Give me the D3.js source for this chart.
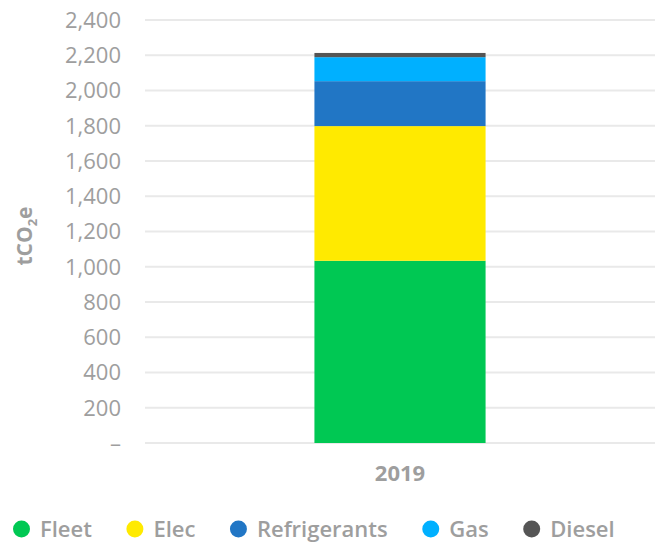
<!DOCTYPE html>
<html>
<head>
<meta charset="utf-8">
<script src="https://cdn.jsdelivr.net/npm/d3@7"></script>
<style>
  body { margin: 0; background: #fff; }
  svg text { font-family: "Open Sans", Lato, sans-serif; }
</style>
</head>
<body>
<div id="chart"></div>
<script>
const years = ['2019'];
const seriesNames = ['Fleet', 'Elec', 'Refrigerants', 'Gas', 'Diesel'];
const fleet = [1034];
const elec = [764];
const refrigerants = [255];
const gas = [136];
const diesel = [24];
const yTicks = [0, 200, 400, 600, 800, 1000, 1200, 1400, 1600, 1800, 2000, 2200, 2400];
const colors = ['#00c853', '#ffea00', '#2176c5', '#00b0ff', '#555555'];

const width = 662, height = 543;
const margin = {top: 20, right: 7, bottom: 100, left: 145};

const rows = years.map((y, i) => ({
  year: y, Fleet: fleet[i], Elec: elec[i], Refrigerants: refrigerants[i], Gas: gas[i], Diesel: diesel[i]
}));

const svg = d3.select('#chart').append('svg')
  .attr('width', width)
  .attr('height', height);

const x = d3.scaleBand()
  .domain(years)
  .range([margin.left, width - margin.right])
  .paddingInner(0)
  .paddingOuter(0.99);

const y = d3.scaleLinear()
  .domain([0, 2400])
  .range([443, 20]);

// gridlines
svg.append('g')
  .selectAll('line')
  .data(yTicks)
  .enter().append('line')
  .attr('x1', margin.left)
  .attr('x2', width - margin.right)
  .attr('y1', d => y(d))
  .attr('y2', d => y(d))
  .attr('stroke', '#e9e9e9')
  .attr('stroke-width', 2);

// y tick labels
svg.append('g')
  .selectAll('text')
  .data(yTicks)
  .enter().append('text')
  .attr('x', 121)
  .attr('y', d => y(d))
  .attr('dy', '0.36em')
  .attr('text-anchor', 'end')
  .style('font-size', '22px')
  .style('fill', '#9e9e9e')
  .text(d => d === 0 ? '–' : d3.format(',')(d));

// y title
const yt = svg.append('text')
  .attr('transform', 'translate(32,236) rotate(-90)')
  .attr('text-anchor', 'middle')
  .style('font-size', '21px')
  .style('font-weight', 'bold')
  .style('fill', '#9e9e9e');
yt.append('tspan').text('tCO');
yt.append('tspan').attr('dy', 5).style('font-size', '13px').text('2');
yt.append('tspan').attr('dy', -5).text('e');

// stacked bars
const stack = d3.stack().keys(seriesNames)(rows);
svg.append('g')
  .selectAll('g')
  .data(stack)
  .enter().append('g')
  .attr('fill', (d, i) => colors[i])
  .selectAll('rect')
  .data(d => d)
  .enter().append('rect')
  .attr('x', d => x(d.data.year))
  .attr('width', x.bandwidth())
  .attr('y', d => y(d[1]))
  .attr('height', d => y(d[0]) - y(d[1]));

// x labels
svg.append('g')
  .selectAll('text')
  .data(years)
  .enter().append('text')
  .attr('x', d => x(d) + x.bandwidth() / 2)
  .attr('y', 481)
  .attr('text-anchor', 'middle')
  .style('font-size', '22px')
  .style('font-weight', 'bold')
  .style('fill', '#9e9e9e')
  .text(d => d);

// legend
const legend = svg.append('g').attr('transform', 'translate(0,529)');
let lx = 13;
seriesNames.forEach((name, i) => {
  const g = legend.append('g').attr('transform', `translate(${lx},0)`);
  g.append('circle').attr('cx', 8.5).attr('cy', 0).attr('r', 8.5).attr('fill', colors[i]);
  const t = g.append('text')
    .attr('x', 27)
    .attr('dy', '0.35em')
    .style('font-size', '22px')
    .style('font-weight', 600)
    .style('fill', '#9e9e9e')
    .text(name);
  lx += 27 + t.node().getComputedTextLength() + 34.5;
});
</script>
</body>
</html>
